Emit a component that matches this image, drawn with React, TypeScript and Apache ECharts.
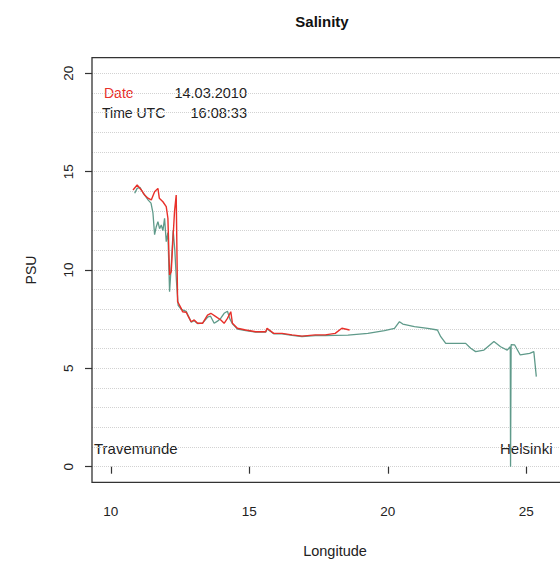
import React, { useEffect, useRef } from "react";
import * as echarts from "echarts";

// Ship route salinity (PSU) vs longitude
const tealLon = [
  10.86, 10.95, 11.05, 11.15, 11.25, 11.35, 11.45, 11.52, 11.58, 11.64, 11.7, 11.76, 11.82, 11.88, 11.94, 12.0,
  12.06, 12.12, 12.18, 12.25, 12.31, 12.37, 12.43, 12.54, 12.72, 12.9, 13.01, 13.13, 13.31, 13.49, 13.6, 13.73,
  13.85, 13.97, 14.09, 14.21, 14.3, 14.4, 14.57, 14.87, 15.23, 15.59, 15.64, 15.88, 16.18, 16.54, 16.9, 17.38,
  17.74, 18.1, 18.56, 19.28, 19.88, 20.24, 20.42, 20.54, 20.96, 21.44, 21.79, 21.91, 22.09, 22.51, 22.81, 22.99,
  23.17, 23.47, 23.83, 24.07, 24.31, 24.42, 24.43, 24.45, 24.58, 24.78, 25.12, 25.27, 25.36,
];
const tealPsu = [
  13.9, 14.15, 14.2, 13.95, 13.75, 13.55, 13.4, 12.9, 11.8, 12.2, 12.46, 12.1, 12.29, 12.0, 12.63, 11.44,
  11.9, 8.9, 10.2, 12.0, 11.0, 9.4, 8.2, 8.0, 7.9, 7.35, 7.42, 7.28, 7.3, 7.6, 7.65, 7.29,
  7.4, 7.55, 7.8, 7.9, 7.5, 7.25, 7.0, 6.92, 6.84, 6.84, 7.0, 6.76, 6.75, 6.68, 6.62, 6.66,
  6.66, 6.68, 6.69, 6.78, 6.92, 7.03, 7.37, 7.25, 7.12, 7.03, 6.95, 6.61, 6.27, 6.27, 6.27, 6.02,
  5.85, 5.93, 6.36, 6.1, 5.93, 6.1, 0.0, 6.2, 6.19, 5.68, 5.76, 5.85, 4.58,
];
const redLon = [
  10.8, 10.95, 11.1, 11.22, 11.34, 11.46, 11.58, 11.7, 11.75, 11.88, 12.0, 12.06, 12.12, 12.18, 12.24, 12.3,
  12.36, 12.41, 12.54, 12.59, 12.72, 12.81, 12.9, 13.01, 13.13, 13.31, 13.49, 13.61, 13.79, 13.97, 14.09, 14.21,
  14.33, 14.39, 14.57, 14.87, 15.23, 15.59, 15.64, 15.88, 16.18, 16.54, 16.9, 17.38, 17.74, 18.1, 18.34, 18.62,
];
const redPsu = [
  14.07, 14.32, 14.07, 13.81, 13.65, 13.56, 13.98, 14.15, 13.65, 13.47, 13.22, 12.63, 9.75, 9.91, 11.5, 13.0,
  13.81, 8.39, 8.05, 7.88, 7.85, 7.6, 7.37, 7.46, 7.29, 7.29, 7.71, 7.8, 7.63, 7.46, 7.29, 7.54,
  7.88, 7.29, 7.04, 6.95, 6.86, 6.86, 7.04, 6.78, 6.78, 6.7, 6.64, 6.7, 6.7, 6.78, 7.04, 6.95,
];
const xTicks = [10, 15, 20, 25];
const xRange = [9.32, 26.215];
const yRange = [0, 20];

const FONT = "'Liberation Sans', Arial, Helvetica, sans-serif";

export default function App() {
  const ref = useRef<HTMLDivElement>(null);
  useEffect(() => {
    if (!ref.current) return;
    const chart = echarts.init(ref.current, undefined, { renderer: "svg" });
    const teal = tealLon.map((x, i) => [x, tealPsu[i]]);
    const red = redLon.map((x, i) => [x, redPsu[i]]);
    const gridStyle = { color: "#d2d2d2", type: "dotted", width: 1 };
    chart.setOption({
      animation: false,
      backgroundColor: "#ffffff",
      grid: { left: 92, right: 0, top: 73.3, bottom: 95.3 },
      xAxis: {
        type: "value",
        min: xRange[0],
        max: xRange[1],
        offset: 15.7,
        axisLine: { show: false },
        axisTick: { show: true, length: 7, customValues: xTicks, lineStyle: { color: "#333", width: 1.2 } },
        axisLabel: { customValues: xTicks, margin: 22, fontSize: 13.5, color: "#222", fontFamily: FONT },
        splitLine: { show: false },
      },
      yAxis: {
        type: "value",
        min: yRange[0],
        max: yRange[1],
        interval: 5,
        axisLine: { show: false },
        axisTick: { show: true, length: 7, lineStyle: { color: "#333", width: 1.2 } },
        axisLabel: { rotate: 90, margin: 17, fontSize: 13.5, color: "#222", fontFamily: FONT },
        splitLine: { show: true, lineStyle: gridStyle },
        minorTick: { show: false, splitNumber: 5 },
        minorSplitLine: { show: true, lineStyle: gridStyle },
      },
      series: [
        {
          type: "line",
          data: teal,
          symbol: "none",
          lineStyle: { color: "#5f9a8a", width: 1.3 },
          itemStyle: { color: "#5f9a8a" },
          z: 2,
        },
        {
          type: "line",
          data: red,
          symbol: "none",
          lineStyle: { color: "#e8302a", width: 1.4 },
          itemStyle: { color: "#e8302a" },
          z: 3,
        },
      ],
      graphic: [
        {
          type: "rect",
          silent: true,
          z: 100,
          shape: { x: 92, y: 57.6, width: 520, height: 424.8 },
          style: { fill: "none", stroke: "#333", lineWidth: 1.3 },
        },
        { type: "text", x: 322, y: 21, style: { text: "Salinity", font: `bold 15px ${FONT}`, fill: "#111", align: "center", verticalAlign: "middle" } },
        { type: "text", x: 335, y: 551, style: { text: "Longitude", font: `14.5px ${FONT}`, fill: "#222", align: "center", verticalAlign: "middle" } },
        { type: "text", x: 31, y: 270, rotation: Math.PI / 2, style: { text: "PSU", font: `14px ${FONT}`, fill: "#222", align: "center", verticalAlign: "middle" } },
        { type: "text", x: 104, y: 93, style: { text: "Date", font: `14px ${FONT}`, fill: "#e8302a", align: "left", verticalAlign: "middle" } },
        { type: "text", x: 247, y: 93, style: { text: "14.03.2010", font: `14.5px ${FONT}`, fill: "#222", align: "right", verticalAlign: "middle" } },
        { type: "text", x: 102, y: 113, style: { text: "Time UTC", font: `14px ${FONT}`, fill: "#222", align: "left", verticalAlign: "middle" } },
        { type: "text", x: 247, y: 113, style: { text: "16:08:33", font: `14.5px ${FONT}`, fill: "#222", align: "right", verticalAlign: "middle" } },
        { type: "text", x: 94, y: 448, style: { text: "Travemunde", font: `15px ${FONT}`, fill: "#222", align: "left", verticalAlign: "middle" } },
        { type: "text", x: 500, y: 448, style: { text: "Helsinki", font: `15px ${FONT}`, fill: "#222", align: "left", verticalAlign: "middle" } },
      ],
    });
    return () => chart.dispose();
  }, []);
  return <div ref={ref} style={{ position: "fixed", left: 0, top: 0, width: 560, height: 562 }} />;
}
